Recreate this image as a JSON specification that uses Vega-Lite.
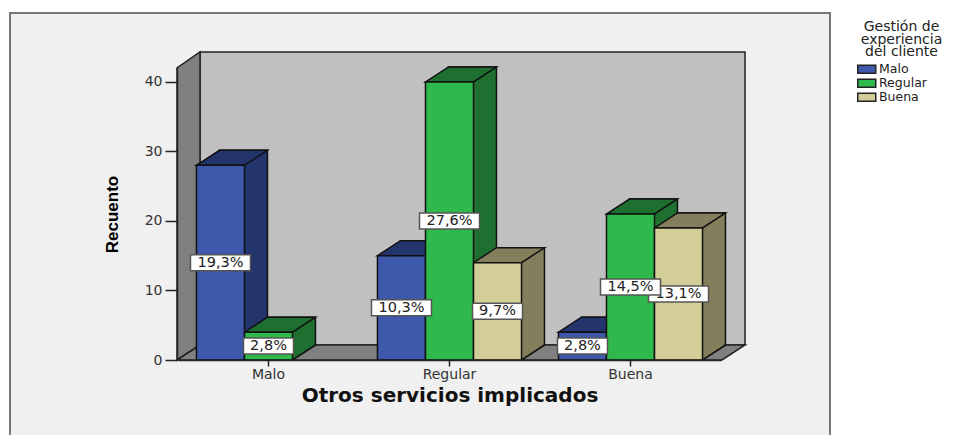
{
"$schema":"https://vega.github.io/schema/vega-lite/v6.json",
"width":543,"height":292,
"autosize":{"type":"none"},
"padding":{"left":178,"top":68,"right":239,"bottom":75},
"background":"#ffffff",
"config":{"view":{"stroke":null},"font":"DejaVu Sans"},
"datasets":{
"bars":[
{"servicio":"Malo","gestion":"Malo","recuento":28,"porcentaje":"19,3%"},
{"servicio":"Malo","gestion":"Regular","recuento":4,"porcentaje":"2,8%"},
{"servicio":"Regular","gestion":"Malo","recuento":15,"porcentaje":"10,3%"},
{"servicio":"Regular","gestion":"Regular","recuento":40,"porcentaje":"27,6%"},
{"servicio":"Regular","gestion":"Buena","recuento":14,"porcentaje":"9,7%"},
{"servicio":"Buena","gestion":"Malo","recuento":4,"porcentaje":"2,8%"},
{"servicio":"Buena","gestion":"Regular","recuento":21,"porcentaje":"14,5%"},
{"servicio":"Buena","gestion":"Buena","recuento":19,"porcentaje":"13,1%"}
],
"base":[{"servicio":"Regular","recuento":0}]
},
"encoding":{
"x":{"field":"servicio","type":"nominal","sort":["Malo","Regular","Buena"],
"scale":{"domain":["Malo","Regular","Buena"],"paddingInner":0.204,"paddingOuter":0.102},
"title":"Otros servicios implicados",
"axis":{"zindex":1,"labelAngle":0,"labelFontSize":14,"labelColor":"#333333","labelPadding":1,"tickColor":"#222222","tickSize":6,"tickWidth":1.5,"domainColor":"#222222","domainWidth":1.5,"titleFontSize":20,"titleFontWeight":"bold","titleColor":"#111111","titlePadding":4}}
},
"layer":[
{"data":{"name":"base"},"mark":{"type":"point","filled":true,"opacity":1,"size":4,"shape":"M-439.5,-347 L380.5,-347 L380.5,85 L-439.5,85 Z","fill":"#f0f0f0","stroke":"#777777","strokeWidth":2},
"encoding":{"y":{"field":"recuento","type":"quantitative","scale":{"domain":[0,42]},
"title":"Recuento",
"axis":{"zindex":1,"offset":1,"values":[0,10,20,30,40],"grid":false,"labelFontSize":14,"labelColor":"#333333","labelPadding":3,"tickColor":"#222222","tickSize":12,"tickWidth":1.5,"domainColor":"#222222","domainWidth":1.5,"titleFont":"Liberation Sans","titleFontSize":17,"titleFontWeight":"bold","titleColor":"#000000","titleX":-56,"titleY":146}}}},
{"data":{"name":"base"},"mark":{"type":"point","filled":true,"opacity":1,"size":4,"shape":"M-249.5,-15 L295.5,-15 L295.5,-308 L-249.5,-308 Z","fill":"#c0c0c0","stroke":"#222222","strokeWidth":1.5},
"encoding":{"y":{"field":"recuento","type":"quantitative","scale":{"domain":[0,42]},"axis":null}}},
{"data":{"name":"base"},"mark":{"type":"point","filled":true,"opacity":1,"size":4,"shape":"M-272.5,0 L-249.5,-15 L-249.5,-308 L-272.5,-292 Z","fill":"#808080","stroke":"#222222","strokeWidth":1.5},
"encoding":{"y":{"field":"recuento","type":"quantitative","scale":{"domain":[0,42]},"axis":null}}},
{"data":{"name":"base"},"mark":{"type":"point","filled":true,"opacity":1,"size":4,"shape":"M-272.5,0 L-249.5,-15 L295.5,-15 L272.5,0 Z","fill":"#808080","stroke":"#222222","strokeWidth":1.5},
"encoding":{"y":{"field":"recuento","type":"quantitative","scale":{"domain":[0,42]},"axis":null}}},
{"data":{"name":"bars"},"mark":{"type":"bar","yOffset":-15,"y2Offset":-15,"stroke":"#111111","strokeWidth":1.5},
"encoding":{"xOffset":{"field":"gestion","type":"nominal","sort":["Malo","Regular","Buena"],"scale":{"domain":["Malo","Regular","Buena"],"range":[23,167]}},
"y":{"field":"recuento","type":"quantitative","scale":{"domain":[0,42]},"axis":null},
"fill":{"field":"gestion","type":"nominal","scale":{"domain":["Buena","Regular","Malo"],"range":["#837f5c","#1f7030","#24346c"]},"legend":null}}},
{"data":{"name":"bars"},"mark":{"type":"point","filled":true,"opacity":1,"size":4,"shape":"M24,0 L46,-14 L46,-16.5 L24,-16.5 Z","strokeWidth":0},
"encoding":{"xOffset":{"field":"gestion","type":"nominal","sort":["Malo","Regular","Buena"],"scale":{"domain":["Malo","Regular","Buena"]}},
"y":{"datum":0,"type":"quantitative","scale":{"domain":[0,42]},"axis":null},
"fill":{"field":"gestion","type":"nominal","scale":{"domain":["Buena","Regular","Malo"],"range":["#837f5c","#1f7030","#24346c"]},"legend":null}}},
{"data":{"name":"bars"},"mark":{"type":"point","filled":false,"opacity":1,"size":4,"shape":"M24,0 L47,-15","stroke":"#111111","strokeWidth":1.5},
"encoding":{"xOffset":{"field":"gestion","type":"nominal","sort":["Malo","Regular","Buena"],"scale":{"domain":["Malo","Regular","Buena"]}},
"y":{"datum":0,"type":"quantitative","scale":{"domain":[0,42]},"axis":null}}},
{"data":{"name":"bars"},"mark":{"type":"point","filled":true,"opacity":1,"size":4,"shape":"M-24,0 L24,0 L47,-15 L-1,-15 Z","stroke":"#111111","strokeWidth":1.5},
"encoding":{"xOffset":{"field":"gestion","type":"nominal","sort":["Malo","Regular","Buena"],"scale":{"domain":["Malo","Regular","Buena"]}},
"y":{"field":"recuento","type":"quantitative","scale":{"domain":[0,42]},"axis":null},
"fill":{"field":"gestion","type":"nominal","scale":{"domain":["Buena","Regular","Malo"],"range":["#837f5c","#1f7030","#24346c"]},"legend":null}}},
{"data":{"name":"bars"},"mark":{"type":"bar","stroke":"#111111","strokeWidth":1.5},
"encoding":{"xOffset":{"field":"gestion","type":"nominal","sort":["Malo","Regular","Buena"],"scale":{"domain":["Malo","Regular","Buena"]}},
"y":{"field":"recuento","type":"quantitative","scale":{"domain":[0,42]},"axis":null},
"color":{"field":"gestion","type":"nominal","scale":{"domain":["Malo","Regular","Buena"],"range":["#3e58ac","#2fb84c","#d3ce97"]},
"legend":{"orient":"none","legendX":682.5,"legendY":-48,"title":["Gestión de","experiencia","del cliente"],"titleFontSize":14,"titleFontWeight":"normal","titleColor":"#222222","titleLineHeight":12.5,"titleAlign":"center","titleAnchor":"middle","titlePadding":4,"labelFontSize":12.5,"labelColor":"#222222","labelOffset":-9,"symbolType":"M-24,-4 L-6,-4 L-6,4 L-24,4 Z","symbolSize":4,"symbolStrokeColor":"#222222","symbolStrokeWidth":1.5,"rowPadding":-3.5,"padding":0}}}},
{"data":{"name":"bars"},"transform":[{"filter":"datum.porcentaje === '13,1%'"}],"mark":{"type":"point","filled":true,"opacity":1,"size":4,"shape":"M-30,-8 L30,-8 L30,8 L-30,8 Z","fill":"#ffffff","stroke":"#555555","strokeWidth":1.5},
"encoding":{"xOffset":{"field":"gestion","type":"nominal","sort":["Malo","Regular","Buena"],"scale":{"domain":["Malo","Regular","Buena"]}},
"y":{"field":"recuento","type":"quantitative","scale":{"domain":[0,84]},"axis":null}}},
{"data":{"name":"bars"},"transform":[{"filter":"datum.porcentaje === '13,1%'"}],"mark":{"type":"text","fontSize":14.5,"fill":"#222222","align":"center","baseline":"middle"},
"encoding":{"xOffset":{"field":"gestion","type":"nominal","sort":["Malo","Regular","Buena"],"scale":{"domain":["Malo","Regular","Buena"]}},
"y":{"field":"recuento","type":"quantitative","scale":{"domain":[0,84]},"axis":null},
"text":{"field":"porcentaje"}}},
{"data":{"name":"bars"},"transform":[{"filter":"datum.porcentaje !== '13,1%' && datum.porcentaje !== '2,8%' && datum.porcentaje !== '9,7%'"}],"mark":{"type":"point","filled":true,"opacity":1,"size":4,"shape":"M-30,-8 L30,-8 L30,8 L-30,8 Z","fill":"#ffffff","stroke":"#555555","strokeWidth":1.5},
"encoding":{"xOffset":{"field":"gestion","type":"nominal","sort":["Malo","Regular","Buena"],"scale":{"domain":["Malo","Regular","Buena"]}},
"y":{"field":"recuento","type":"quantitative","scale":{"domain":[0,84]},"axis":null}}},
{"data":{"name":"bars"},"transform":[{"filter":"datum.porcentaje === '2,8%' || datum.porcentaje === '9,7%'"}],"mark":{"type":"point","filled":true,"opacity":1,"size":4,"shape":"M-25,-8 L25,-8 L25,8 L-25,8 Z","fill":"#ffffff","stroke":"#555555","strokeWidth":1.5},
"encoding":{"xOffset":{"field":"gestion","type":"nominal","sort":["Malo","Regular","Buena"],"scale":{"domain":["Malo","Regular","Buena"]}},
"y":{"field":"recuento","type":"quantitative","scale":{"domain":[0,84]},"axis":null}}},
{"data":{"name":"bars"},"transform":[{"filter":"datum.porcentaje !== '13,1%'"}],"mark":{"type":"text","fontSize":14.5,"fill":"#222222","align":"center","baseline":"middle"},
"encoding":{"xOffset":{"field":"gestion","type":"nominal","sort":["Malo","Regular","Buena"],"scale":{"domain":["Malo","Regular","Buena"]}},
"y":{"field":"recuento","type":"quantitative","scale":{"domain":[0,84]},"axis":null},
"text":{"field":"porcentaje"}}}
],
"resolve":{"scale":{"y":"independent","xOffset":"independent"}}
}
